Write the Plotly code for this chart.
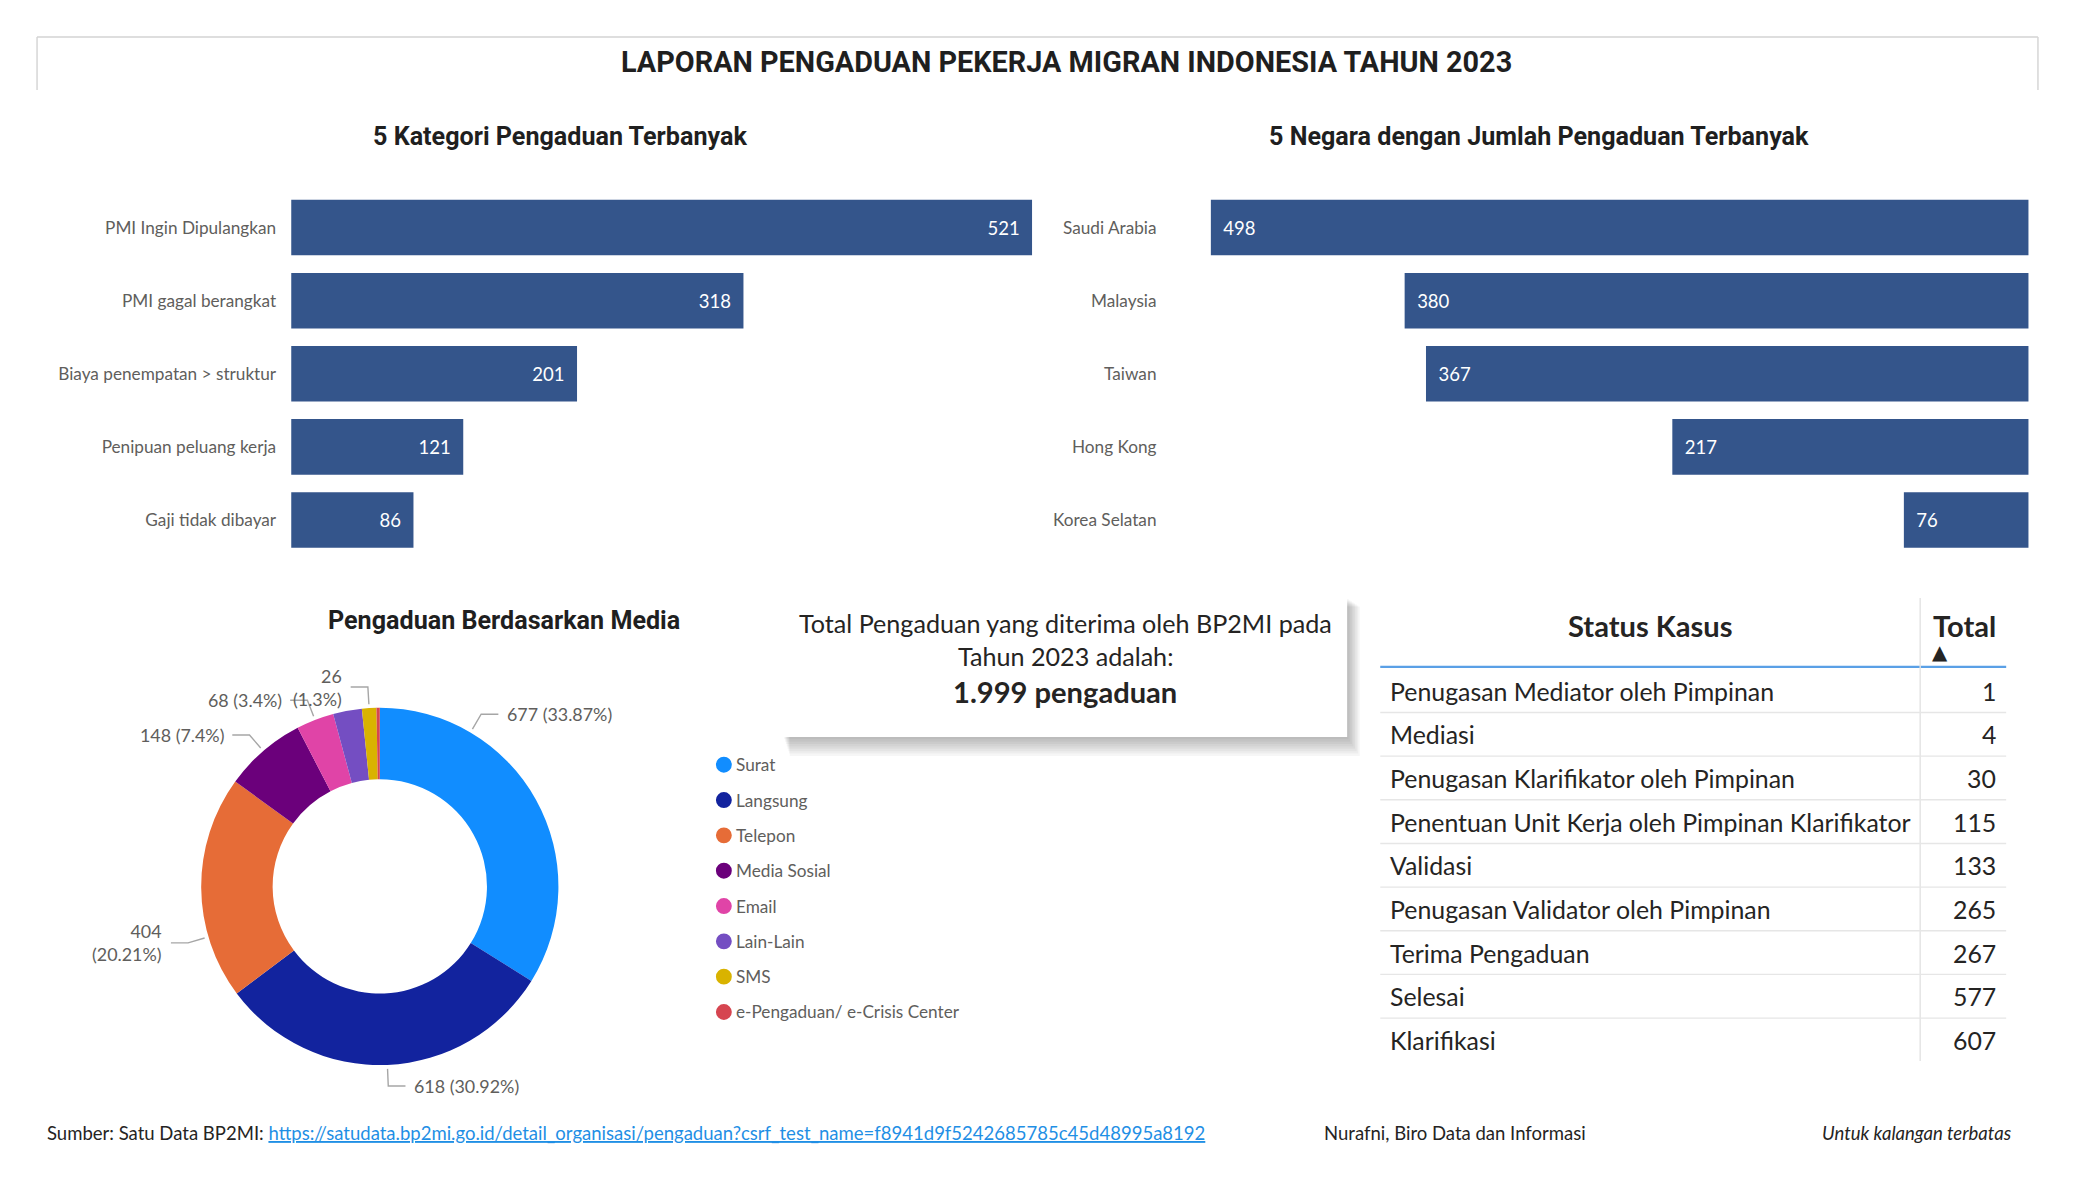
import math
import plotly.graph_objects as go

# ---------------- data ----------------
kategori = ["PMI Ingin Dipulangkan", "PMI gagal berangkat", "Biaya penempatan > struktur",
            "Penipuan peluang kerja", "Gaji tidak dibayar"]
kategori_val = [521, 318, 201, 121, 86]

negara = ["Saudi Arabia", "Malaysia", "Taiwan", "Hong Kong", "Korea Selatan"]
negara_val = [498, 380, 367, 217, 76]

media = ["Surat", "Langsung", "Telepon", "Media Sosial", "Email", "Lain-Lain", "SMS",
         "e-Pengaduan/ e-Crisis Center"]
media_val = [677, 618, 404, 148, 68, 52, 26, 6]
media_colors = ["#118DFF", "#12239E", "#E66C37", "#6B007B", "#E044A7", "#744EC2",
                "#D9B300", "#D64550"]

status = ["Penugasan Mediator oleh Pimpinan", "Mediasi", "Penugasan Klarifikator oleh Pimpinan",
          "Penentuan Unit Kerja oleh Pimpinan Klarifikator", "Validasi",
          "Penugasan Validator oleh Pimpinan", "Terima Pengaduan", "Selesai", "Klarifikasi"]
status_val = [1, 4, 30, 115, 133, 265, 267, 577, 607]

total_pengaduan = 1999

# label styling for donut (which labels are shown / wrapped / where on the slice)
label_show = [True, True, True, True, True, False, True, False]
label_wrap = [False, False, True, False, False, False, True, False]
label_frac = [0.25, 0.5, 0.28, 0.5, 0.5, 0.5, 0.5, 0.5]

# ---------------- helpers ----------------
W, H = 2075, 1200
DW, DH = 1568.0, 907.0
K = W / DW


def X(x):
    return x / DW


def Y(y):
    return 1 - y / DH


def fs(f):
    return f * K


BODY = "Lato"
HEAD = "Roboto"
GRAY = "#605E5C"
DARK = "#252423"
BAR = "#34558B"

fig = go.Figure()

# ---------------- bar charts ----------------
fig.add_trace(go.Bar(
    y=kategori, x=kategori_val, orientation="h", marker=dict(color=BAR, line=dict(width=0)),
    texttemplate="%{x}\u00a0\u00a0", textposition="inside", insidetextanchor="end",
    textfont=dict(color="white", size=fs(14), family=BODY),
    xaxis="x", yaxis="y", showlegend=False, hoverinfo="x+y"))

fig.add_trace(go.Bar(
    y=negara, x=negara_val, orientation="h", marker=dict(color=BAR, line=dict(width=0)),
    texttemplate="\u00a0\u00a0%{x}", textposition="inside", insidetextanchor="end",
    textfont=dict(color="white", size=fs(14), family=BODY),
    xaxis="x2", yaxis="y2", showlegend=False, hoverinfo="x+y"))

# ---------------- donut ----------------
fig.add_trace(go.Pie(
    labels=media, values=media_val, hole=0.6, sort=False, direction="clockwise",
    marker=dict(colors=media_colors, line=dict(width=0)), textinfo="none",
    domain=dict(x=[X(152), X(422)], y=[Y(805), Y(535)]), showlegend=False))

annotations = []
shapes = []

# border (card edges)
for (x0, y0, x1, y1) in [(28, 28, 1540, 28), (28, 28, 28, 68), (1540, 28, 1540, 68)]:
    shapes.append(dict(type="line", xref="paper", yref="paper", x0=X(x0), y0=Y(y0),
                       x1=X(x1), y1=Y(y1), line=dict(color="#D3D3D3", width=1.4)))

# titles
annotations.append(dict(text="<b>LAPORAN PENGADUAN PEKERJA MIGRAN INDONESIA TAHUN 2023</b>",
                        x=X(806), y=Y(47), font=dict(family=HEAD, size=fs(21.8), color="#1F1F1F")))
annotations.append(dict(text="<b>5 Kategori Pengaduan Terbanyak</b>", x=X(423), y=Y(103),
                        font=dict(family=HEAD, size=fs(19), color="#1F1F1F")))
annotations.append(dict(text="<b>5 Negara dengan Jumlah Pengaduan Terbanyak</b>", x=X(1163), y=Y(103),
                        font=dict(family=HEAD, size=fs(19), color="#1F1F1F")))
annotations.append(dict(text="<b>Pengaduan Berdasarkan Media</b>", x=X(381), y=Y(469),
                        font=dict(family=HEAD, size=fs(19), color="#1F1F1F")))

# donut labels with leader lines
cx, cy, R = 287, 670, 135
start = 0.0
for i, v in enumerate(media_val):
    span = v / total_pengaduan * 360.0
    if label_show[i]:
        th = math.radians(start + label_frac[i] * span)
        sx, sy = math.sin(th), -math.cos(th)
        p0 = (cx + (R + 3) * sx, cy + (R + 3) * sy)
        p1 = (cx + (R + 16) * sx, cy + (R + 16) * sy)
        side = 1 if sx > 0 else -1
        p2 = (p1[0] + side * 13, p1[1])
        shapes.append(dict(type="path", xref="paper", yref="paper",
                           path=f"M {X(p0[0])} {Y(p0[1])} L {X(p1[0])} {Y(p1[1])} L {X(p2[0])} {Y(p2[1])}",
                           line=dict(color="#A6A6A6", width=1.4)))
        pct = format(round(v / total_pengaduan * 100, 2), "g")
        sep = "<br>" if label_wrap[i] else " "
        annotations.append(dict(text=f"{v}{sep}({pct}%)", x=X(p2[0] + side * 5), y=Y(p2[1]),
                                xanchor="left" if side > 0 else "right",
                                align="left" if side > 0 else "right",
                                font=dict(family=BODY, size=fs(13.5), color=GRAY)))
    start += span

# manual legend
for i, (name, col) in enumerate(zip(media, media_colors)):
    yy = 578 + 26.7 * i
    shapes.append(dict(type="circle", xref="paper", yref="paper", x0=X(541), x1=X(553),
                       y0=Y(yy + 6), y1=Y(yy - 6), fillcolor=col, line=dict(width=0)))
    annotations.append(dict(text=name, x=X(555), y=Y(yy), xanchor="left",
                            font=dict(family=BODY, size=fs(13), color=GRAY)))

# total card with shadow
for j in range(1, 9):
    shapes.append(dict(type="rect", xref="paper", yref="paper", x0=X(592 + j * 0.6), x1=X(1018 + j * 1.2),
                       y0=Y(557 + j * 1.8), y1=Y(452 + j * 0.8), fillcolor="rgba(0,0,0,0.035)",
                       line=dict(width=0)))
shapes.append(dict(type="rect", xref="paper", yref="paper", x0=X(592), x1=X(1018), y0=Y(557), y1=Y(452),
                   fillcolor="white", line=dict(width=0)))
annotations.append(dict(text="Total Pengaduan yang diterima oleh BP2MI pada", x=X(805), y=Y(471),
                        font=dict(family=BODY, size=fs(19), color=DARK)))
annotations.append(dict(text="Tahun 2023 adalah:", x=X(805), y=Y(496),
                        font=dict(family=BODY, size=fs(19), color=DARK)))
total_txt = f"{total_pengaduan:,}".replace(",", ".")
annotations.append(dict(text=f"<b>{total_txt} pengaduan</b>", x=X(805), y=Y(523),
                        font=dict(family=BODY, size=fs(22), color=DARK)))

# status table
annotations.append(dict(text="<b>Status Kasus</b>", x=X(1247), y=Y(473),
                        font=dict(family=BODY, size=fs(22), color=DARK)))
annotations.append(dict(text="<b>Total</b>", x=X(1459), y=Y(473), xanchor="left",
                        font=dict(family=BODY, size=fs(22), color=DARK)))
annotations.append(dict(text="\u25B2", x=X(1466), y=Y(493),
                        font=dict(family="DejaVu Sans", size=fs(15), color=DARK)))
shapes.append(dict(type="line", xref="paper", yref="paper", x0=X(1043), x1=X(1516), y0=Y(504), y1=Y(504),
                   line=dict(color="#5AA0E6", width=2.2)))
shapes.append(dict(type="line", xref="paper", yref="paper", x0=X(1451), x1=X(1451), y0=Y(452), y1=Y(802),
                   line=dict(color="#E3E3E3", width=1.4)))
for i, (s, v) in enumerate(zip(status, status_val)):
    yy = 522 + 33 * i
    annotations.append(dict(text=s, x=X(1049), y=Y(yy), xanchor="left",
                            font=dict(family=BODY, size=fs(18.8), color=DARK)))
    annotations.append(dict(text=str(v), x=X(1510), y=Y(yy), xanchor="right",
                            font=dict(family=BODY, size=fs(18.8), color=DARK)))
    if i < len(status) - 1:
        shapes.append(dict(type="line", xref="paper", yref="paper", x0=X(1043), x1=X(1516),
                           y0=Y(yy + 16.5), y1=Y(yy + 16.5), line=dict(color="#E6E6E6", width=1.4)))

# footer
url = "https://satudata.bp2mi.go.id/detail_organisasi/pengaduan?csrf_test_name=f8941d9f5242685785c45d48995a8192"
annotations.append(dict(
    text=f"Sumber: Satu Data BP2MI: <a href=\"{url}\" style=\"color:#1F8FE5;text-decoration:underline\">{url}</a>",
    x=X(34), y=Y(856), xanchor="left", font=dict(family=BODY, size=fs(14), color=DARK)))
annotations.append(dict(text="Nurafni, Biro Data dan Informasi", x=X(999), y=Y(856), xanchor="left",
                        font=dict(family=BODY, size=fs(14), color=DARK)))
annotations.append(dict(text="<i>Untuk kalangan terbatas</i>", x=X(1522), y=Y(856), xanchor="right",
                        font=dict(family=BODY, size=fs(14), color=DARK)))

for a in annotations:
    a.setdefault("xref", "paper")
    a.setdefault("yref", "paper")
    a.setdefault("showarrow", False)
    a.setdefault("yanchor", "middle")
    a.setdefault("xanchor", "center")

step = 55.25
ytop = 172 - step / 2
ybot = 393 + step / 2

fig.update_layout(
    width=W, height=H, margin=dict(l=0, r=0, t=0, b=0),
    paper_bgcolor="white", plot_bgcolor="white", bargap=0.24,
    font=dict(family=BODY, color=GRAY),
    xaxis=dict(domain=[X(220), X(780)], range=[0, 521], showgrid=False, zeroline=False,
               showticklabels=False, fixedrange=True, anchor="y"),
    yaxis=dict(domain=[Y(ybot), Y(ytop)], autorange="reversed", showgrid=False, zeroline=False,
               ticks="", ticklabelstandoff=int(fs(11)), tickfont=dict(family=BODY, size=fs(13), color=GRAY),
               anchor="x"),
    xaxis2=dict(domain=[X(883), X(1533)], range=[498 * (1533 - 883) / (1533 - 915), 0], showgrid=False,
                zeroline=False, showticklabels=False, fixedrange=True, anchor="y2"),
    yaxis2=dict(domain=[Y(ybot), Y(ytop)], autorange="reversed", showgrid=False, zeroline=False,
                ticks="", ticklabelstandoff=int(fs(9)), tickfont=dict(family=BODY, size=fs(13), color=GRAY),
                anchor="x2"),
    annotations=annotations, shapes=shapes,
)

fig.write_html("out.html", config={"displayModeBar": False},
               post_script="document.body.style.margin='0';")
